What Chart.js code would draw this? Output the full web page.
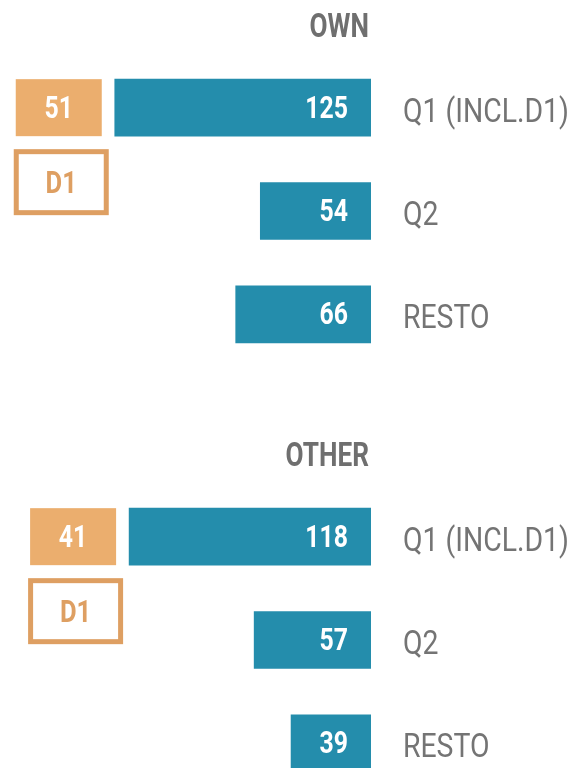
<!DOCTYPE html>
<html>
<head>
<meta charset="utf-8">
<script src="https://cdn.jsdelivr.net/npm/chart.js@4"></script>
<style>
  html, body { margin: 0; padding: 0; background: #fff; overflow: hidden; }
  .panel { position: absolute; left: 0; width: 578px; height: 384px; }
</style>
</head>
<body>
<div class="panel" style="top:0"><canvas id="ownChart"></canvas></div>
<div class="panel" style="top:429px"><canvas id="otherChart"></canvas></div>
<script>
const categories = ['Q1 (INCL.D1)', 'Q2', 'RESTO'];
const groupTitles = ['OWN', 'OTHER'];
const ownValues = [125, 54, 66];
const otherValues = [118, 57, 39];
const d1Values = [51, 41];
const d1Label = 'D1';

const TEAL = '#248dac';
const ORANGE = '#ebae6e';
const ORANGE_DARK = '#de9f62';
const FAMILY = "Roboto, 'Liberation Sans', sans-serif";

// canvas has no condensed face, so squeeze the text horizontally
function condensedText(ctx, text, x, y, align, sx) {
  ctx.save();
  ctx.translate(x, y);
  ctx.scale(sx, 1);
  ctx.textAlign = align;
  ctx.fillText(text, 0, 0);
  ctx.restore();
}

// group title, category names, value labels and the D1 boxes beside Q1
const groupDecor = {
  id: 'groupDecor',
  afterDatasetsDraw(chart, args, opts) {
    const ctx = chart.ctx;
    const area = chart.chartArea;
    const yScale = chart.scales.y;
    const bars = chart.getDatasetMeta(0).data;
    const values = chart.data.datasets[0].data;

    ctx.save();
    ctx.textBaseline = 'alphabetic';

    // category names on the right of the axis
    ctx.font = '33px ' + FAMILY;
    ctx.fillStyle = '#747474';
    yScale.getLabels().forEach((label, i) => {
      condensedText(ctx, label, area.right + 32, yScale.getPixelForValue(i) + 14, 'left', 0.86);
    });

    ctx.font = 'bold 31px ' + FAMILY;
    ctx.fillStyle = '#fff';
    bars.forEach((bar, i) => {
      const right = Math.max(bar.x, bar.base);
      condensedText(ctx, String(values[i]), right - 23, bar.y + 10, 'right', 0.8);
    });

    ctx.font = 'bold 34px ' + FAMILY;
    ctx.fillStyle = '#6f6f6f';
    condensedText(ctx, opts.title, area.right - 2, 37, 'right', 0.77);

    const q1 = bars[0];
    const q1Left = Math.min(q1.x, q1.base);
    const boxW = 86;
    const boxLeft = q1Left - 13 - boxW;
    const top = q1.y - q1.height / 2;

    ctx.fillStyle = ORANGE;
    ctx.fillRect(boxLeft, top, boxW, q1.height);
    ctx.font = 'bold 31px ' + FAMILY;
    ctx.fillStyle = '#fff';
    condensedText(ctx, String(opts.d1), boxLeft + boxW / 2, q1.y + 10, 'center', 0.8);

    ctx.strokeStyle = ORANGE_DARK;
    ctx.lineWidth = 5;
    ctx.strokeRect(boxLeft - 2 + 2.5, top + 70 + 2.5, 90, 61);
    ctx.font = 'bold 32px ' + FAMILY;
    ctx.fillStyle = ORANGE_DARK;
    condensedText(ctx, d1Label, boxLeft + 45.5, top + 70 + 44, 'center', 0.8);

    ctx.restore();
  }
};

function makeChart(id, title, values, d1) {
  return new Chart(document.getElementById(id), {
    type: 'bar',
    data: {
      labels: categories,
      datasets: [{
        data: values,
        backgroundColor: TEAL,
        barThickness: 57
      }]
    },
    options: {
      indexAxis: 'y',
      responsive: true,
      maintainAspectRatio: false,
      animation: false,
      layout: { padding: { top: 56, bottom: 18, left: 2, right: 0 } },
      scales: {
        x: { display: false, reverse: true, min: 0, max: 180 },
        y: {
          position: 'right',
          afterFit(scale) {
            scale.width = 207;
            scale.paddingTop = 0;
            scale.paddingBottom = 0;
          },
          grid: { display: false, drawTicks: false },
          border: { display: false },
          ticks: { display: false }
        }
      },
      plugins: {
        legend: { display: false },
        tooltip: { enabled: false },
        groupDecor: { title: title, d1: d1 }
      }
    },
    plugins: [groupDecor]
  });
}

makeChart('ownChart', groupTitles[0], ownValues, d1Values[0]);
makeChart('otherChart', groupTitles[1], otherValues, d1Values[1]);
</script>
</body>
</html>
